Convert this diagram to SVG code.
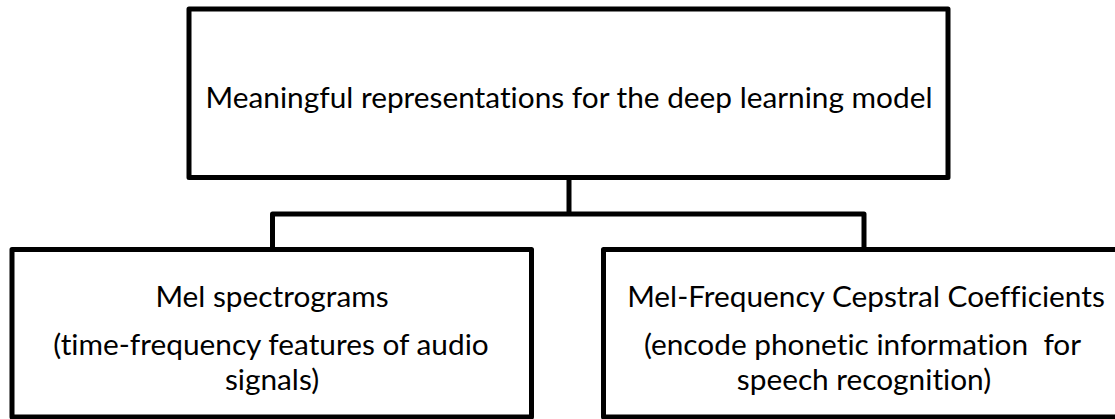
<svg xmlns="http://www.w3.org/2000/svg" width="1115" height="419" viewBox="0 0 1115 419">
  <style>
    .box { fill: #ffffff; stroke: #000000; stroke-width: 5; stroke-linejoin: round; }
    .link { fill: none; stroke: #000000; stroke-width: 5; stroke-linejoin: round; }
    .label { font-family: Lato, "Liberation Sans", sans-serif; font-size: 29.8px; fill: #000000; text-anchor: middle; white-space: pre; font-variant-ligatures: none; }
  </style>
  <rect width="1115" height="419" fill="#ffffff"/>

  <!-- tree connectors: stem from the root, crossbar, drops to each child -->
  <g id="connectors">
    <path class="link" d="M569 177.5 V214"/>
    <path class="link" d="M272.5 249.5 V214 H864 V249.5"/>
  </g>

  <g id="root">
    <rect class="box" x="189" y="9" width="759" height="168.5"/>
    <text class="label" x="569" y="108">Meaningful representations for the deep learning model</text>
  </g>

  <g id="mel-spectrograms">
    <rect class="box" x="12" y="249.5" width="519.5" height="167.5"/>
    <text class="label" x="272" y="307">Mel spectrograms</text>
    <text class="label" x="271" y="355">(time-frequency features of audio</text>
    <text class="label" x="272" y="390">signals)</text>
  </g>

  <g id="mfcc">
    <rect class="box" x="603.5" y="249.5" width="521" height="167.5"/>
    <text class="label" x="866" y="307">Mel-Frequency Cepstral Coefficients</text>
    <text class="label" x="862.5" y="355">(encode phonetic information  for</text>
    <text class="label" x="864" y="390">speech recognition)</text>
  </g>
</svg>
